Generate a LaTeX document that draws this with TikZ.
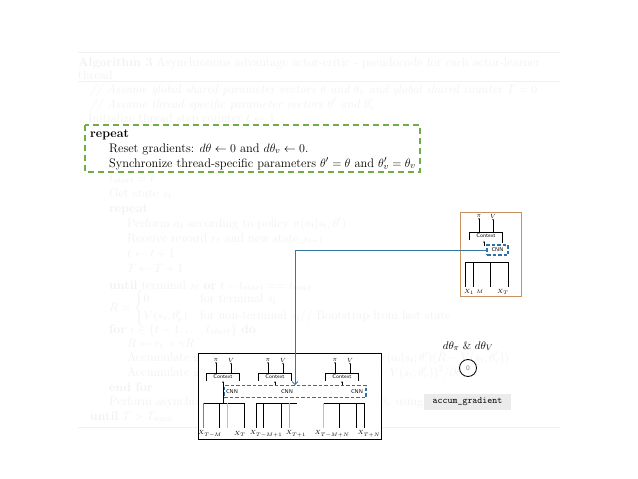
\documentclass[tikz,border=0pt]{standalone}
\usepackage{amsmath}
\usetikzlibrary{arrows.meta}

\definecolor{algofade}{gray}{0.945}
\definecolor{hlgreen}{RGB}{112,173,71}
\definecolor{cnnblue}{RGB}{46,112,170}
\definecolor{linkblue}{RGB}{52,120,162}
\definecolor{netorange}{RGB}{200,145,95}
\definecolor{accumgray}{gray}{0.92}

\tikzset{
  algoline/.style={anchor=base west, inner sep=0pt, font=\fontsize{12.4}{14}\selectfont},
  fadeline/.style={algoline, text=algofade},
  tinytext/.style={inner sep=0.3pt, font=\sffamily\fontsize{5.5}{6}\selectfont},
  tinymath/.style={inner sep=0.3pt, font=\fontsize{6}{7}\selectfont},
  ctxnode/.style={tinytext, minimum width=33pt, minimum height=8pt},
  cnnbox/.style={draw=cnnblue, line width=1.1pt, dash pattern=on 3.5pt off 2pt, inner sep=0pt},
  tip/.style={-{Stealth[length=1.6pt,width=1.6pt]}, line width=0.45pt},
}

\begin{document}
\begin{tikzpicture}[x=1pt,y=1pt,yscale=-1,xscale=1]
\useasboundingbox (0,0) rectangle (638,479);

% --- 1. faded algorithm in the background ---
\draw [algofade, line width=0.8pt] (78,52) -- (560,52);
\draw [algofade, line width=0.5pt] (78,81) -- (560,81);
\draw [algofade, line width=0.8pt] (78,427) -- (560,427);
\node [fadeline] (l1) at (78,66) {\textbf{Algorithm 3} Asynchronous advantage actor-critic - pseudocode for each actor-learner};
\node [fadeline] (l2) at (78,79) {thread.};
\node [fadeline] (l3) at (90,93) {\textit{// Assume global shared parameter vectors $\theta$ and $\theta_v$ and global shared counter $T=0$}};
\node [fadeline] (l4) at (90,108) {\textit{// Assume thread-specific parameter vectors $\theta'$ and $\theta'_v$}};
\node [fadeline] (l5) at (88,122) {Initialize thread step counter $t\leftarrow 1$};
\node [fadeline] (l9) at (109,182) {$t_{start}=t$};
\node [fadeline] (l10) at (109,197) {Get state $s_t$};
\node [fadeline] (l11) at (109,212) {\textbf{repeat}};
\node [fadeline] (l12) at (127,227) {Perform $a_t$ according to policy $\pi(a_t|s_t;\theta')$};
\node [fadeline] (l13) at (127,242) {Receive reward $r_t$ and new state $s_{t+1}$};
\node [fadeline] (l14) at (127,257) {$t\leftarrow t+1$};
\node [fadeline] (l15) at (127,272) {$T\leftarrow T+1$};
\node [fadeline] (l16) at (109,289) {\textbf{until} terminal $s_t$ \textbf{or} $t-t_{start}==t_{max}$};
\node [fadeline, anchor=west] (l17) at (109,308) {$R=\begin{cases}0 & \text{for terminal } s_t\\ V(s_t,\theta'_v) & \text{for non-terminal } s_t\text{// Bootstrap from last state}\end{cases}$};
\node [fadeline] (l18) at (109,333) {\textbf{for} $i\in\{t-1,\ldots,t_{start}\}$ \textbf{do}};
\node [fadeline] (l19) at (127,347) {$R\leftarrow r_i+\gamma R$};
\node [fadeline] (l20) at (127,361) {Accumulate gradients wrt $\theta'$: $d\theta\leftarrow d\theta+\nabla_{\theta'}\log\pi(a_i|s_i;\theta')(R-V(s_i;\theta'_v))$};
\node [fadeline] (l21) at (127,376) {Accumulate gradients wrt $\theta'_v$: $d\theta_v\leftarrow d\theta_v+\partial(R-V(s_i;\theta'_v))^2/\partial\theta'_v$};
\node [fadeline] (l22) at (109,391) {\textbf{end for}};
\node [fadeline] (l23) at (109,405) {Perform asynchronous update of $\theta$ using $d\theta$ and of $\theta_v$ using $d\theta_v$.};
\node [fadeline] (l24) at (90,420) {\textbf{until} $T>T_{max}$};

% --- 2. highlighted lines in the green dashed box ---
\draw [hlgreen, line width=1.5pt, dash pattern=on 6pt off 4pt] (85,125) rectangle (420,172);
\node [algoline] (l6) at (90,137) {\textbf{repeat}};
\node [algoline] (l7) at (109,152) {Reset gradients: $d\theta\leftarrow 0$ and $d\theta_v\leftarrow 0$.};
\node [algoline] (l8) at (109,167) {Synchronize thread-specific parameters $\theta'=\theta$ and $\theta'_v=\theta_v$};

% --- 3. small network (orange frame) ---
\node [draw=netorange, fill=white, line width=0.9pt, minimum width=61pt, minimum height=84pt, inner sep=0pt] (netsmall) at (491,254.7) {};
\node [ctxnode] (ctxs) at (486,236) {Context};
\draw [line width=0.5pt] (ctxs.south west) |- (ctxs.north east) -- ([yshift=3pt]ctxs.south east);
\node [tinymath] (pis) at (479,216) {$\pi$};
\node [tinymath] (vs) at (493,216) {$V$};
\draw [tip] (ctxs.north -| pis) -- (pis.south);
\draw [tip] (ctxs.north -| vs) -- (vs.south);
\node [cnnbox, tinytext, minimum width=21pt, minimum height=10pt] (cnns) at (497.5,250) {CNN};
\draw [tip] (484,246) -- (484,241);
\draw [line width=0.5pt] (465,262) -- (508,262);
\foreach \x in {465,473,490,508}
  \draw [line width=0.5pt] (\x,262) -- (\x,287);
\node [tinymath] (xs1) at (469,292) {$X_1$};
\node [tinymath] (xs2) at (480,292) {$_M$};
\node [tinymath] (xs3) at (503,292) {$X_T$};

% --- 4. unrolled network (black frame) ---
\node [draw, fill=white, line width=0.9pt, minimum width=183pt, minimum height=86pt, inner sep=0pt] (netbig) at (290,396) {};
\foreach \c/\n in {223/a,275/b,342/c} {
  \node [ctxnode] (ctx\n) at (\c,377) {Context};
  \draw [line width=0.5pt] (ctx\n.south west) |- (ctx\n.north east) -- (ctx\n.south east);
  \node [tinymath] (pi\n) at (\c-7,360) {$\pi$};
  \node [tinymath] (v\n) at (\c+8,360) {$V$};
  \draw [tip] (ctx\n.north -| pi\n) -- (pi\n.south);
  \draw [tip] (ctx\n.north -| v\n) -- (v\n.south);
}
\node [cnnbox, minimum width=142pt, minimum height=12pt] (cnnbig) at (295,391.7) {};
\node [tinytext] (cnna) at (232,392) {CNN};
\node [tinytext] (cnnb) at (287,392) {CNN};
\node [tinytext] (cnnc) at (357,392) {CNN};
\draw [tip] (223,403) -- (ctxa.south);
\draw [tip] (cnnbig.north -| ctxb) -- (ctxb.south);
\draw [tip] (cnnbig.north -| ctxc) -- (ctxc.south);
% input frames
\draw [line width=0.5pt] (203,403) -- (244,403);
\draw [line width=0.5pt] (256,403) -- (297,403);
\draw [line width=0.5pt] (323,403) -- (364,403);
\foreach \x/\col in {203/gray,219/black,227/gray!50,244/black,256/black,263/black,281/black,289/gray!60,323/gray!50,339/black,356/black,364/black}
  \draw [\col, line width=0.6pt] (\x,403) -- (\x,428);
\node [tinymath] (xb1) at (210,434) {$X_{T-M}$};
\node [tinymath] (xb2) at (240,434) {$X_T$};
\node [tinymath] (xb3) at (266,434) {$X_{T-M+1}$};
\node [tinymath] (xb4) at (296,434) {$X_{T+1}$};
\node [tinymath] (xb5) at (332,434) {$X_{T-M+N}$};
\node [tinymath] (xb6) at (369,434) {$X_{T+N}$};

% --- 5. link from the small CNN to the unrolled CNN ---
\draw [linkblue, line width=0.9pt, -{Straight Barb[length=3pt,width=6pt]}] (cnns.west) -| (cnnbig.north);

% --- 6. accumulated gradient ---
\node [font=\fontsize{11}{12}\selectfont, inner sep=0pt] (dlabel) at (468,346) {$d\theta_\pi$ \& $d\theta_V$};
\node [draw, circle, fill=white, line width=0.8pt, minimum size=17pt, inner sep=0pt, text=gray, font=\sffamily\fontsize{7}{8}\selectfont] (acc0) at (468,368) {0};
\node [fill=accumgray, minimum width=87pt, minimum height=16pt, inner sep=0pt, font=\ttfamily\fontsize{9.5}{10}\selectfont] (accum) at (467.5,402) {accum\_gradient};

\end{tikzpicture}
\end{document}
